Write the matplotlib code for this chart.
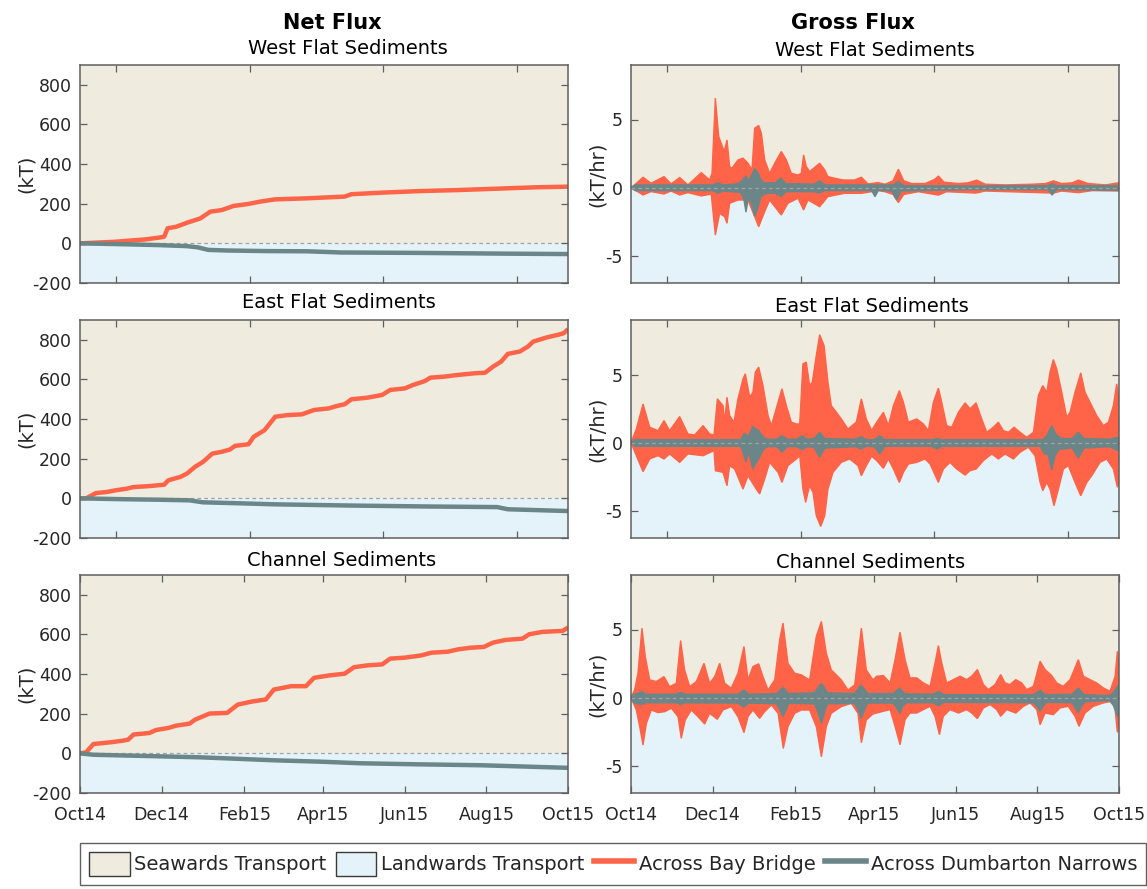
import numpy as np
import matplotlib
matplotlib.use("Agg")
import matplotlib.pyplot as plt
from matplotlib.patches import Patch
from matplotlib.lines import Line2D

# ---------------------------------------------------------------------------
# Data: days since 2014-10-01
# ---------------------------------------------------------------------------
START = np.datetime64("2014-10-01")

# Cumulative net flux (kT) -- (day, value)
west_bay_net = [(0, 0), (26, 8), (49, 20), (60, 30), (63, 34), (65.5, 76), (72, 84), (80, 104),
                (90, 126), (97.5, 160), (106, 168), (115, 189), (126, 199), (135, 211), (146, 222),
                (169, 227), (198, 236), (203, 248), (226, 256), (255, 264), (283, 269), (312, 276),
                (341, 283), (365, 286)]
west_dum_net = [(0, 0), (30, -4), (60, -9), (80, -14), (88, -20), (96, -33), (110, -36), (140, -39),
                (170, -40), (195, -46), (250, -48), (320, -52), (365, -54)]

east_bay_net = [(0, 0), (4.6, 0), (12, 27), (20, 32), (26, 40), (35, 49), (40, 57), (52, 62), (63, 69),
                (66, 91), (75, 108), (80, 125), (86, 159), (92, 184), (99, 226), (106, 235), (112, 246),
                (116, 265), (126, 273), (130, 311), (138, 344), (142, 378), (146, 412), (155, 420),
                (166, 424), (175, 446), (186, 454), (192, 466), (198, 475), (203, 500), (215, 508),
                (226, 522), (232, 547), (243, 555), (249, 572), (258, 592), (262, 609), (272, 614),
                (283, 623), (295, 631), (303, 634), (309, 665), (315, 690), (320, 729), (329, 741),
                (335, 766), (339, 791), (349, 812), (358, 826), (362, 834), (365, 854)]
east_dum_net = [(0, 0), (30, -4), (60, -7), (82, -10), (92, -20), (120, -25), (145, -30), (200, -36),
                (260, -41), (312, -44), (320, -55), (345, -60), (365, -64)]

chan_bay_net = [(0, 0), (4.6, 5), (10, 47), (23, 56), (32, 64), (36, 69), (40, 95), (52, 103), (57, 118),
                (66, 128), (72, 140), (82, 150), (86, 170), (97, 201), (110, 204), (118, 246),
                (129, 262), (139, 272), (145, 322), (158, 339), (169, 339), (175, 381), (186, 393),
                (198, 402), (205, 435), (215, 444), (226, 449), (232, 478), (243, 483), (255, 494),
                (263, 508), (275, 513), (283, 525), (292, 533), (302, 537), (309, 559), (318, 572),
                (331, 579), (336, 601), (346, 613), (361, 618), (365, 635)]
chan_dum_net = [(0, 0), (10, -7), (60, -15), (90, -20), (120, -28), (145, -35), (180, -42), (210, -50),
                (250, -55), (300, -60), (340, -68), (365, -73)]

# Gross flux envelopes (kT/hr) -- (day, value)
west_bay_upper = [(0, 0), (2.7, 0.2), (9, 0.76), (15, 0.32), (24.7, 0.81), (30, 0.27), (36.4, 0.74),
                  (42.6, 0.2), (52.6, 1.1), (58.8, 0.56), (60.6, 1.05), (63.1, 6.57), (65.6, 3.75),
                  (68.8, 2.89), (70.1, 2.77), (71.8, 3.5), (73.8, 1.54), (75.5, 1.42), (80, 2.03),
                  (83.8, 2.16), (87.5, 1.79), (90.5, 1.3), (92.5, 4.36), (95.5, 4.56), (97.5, 4.0),
                  (100, 2.03), (103.7, 1.05), (107.5, 1.79), (112.4, 2.65), (116.2, 2.03), (119.9, 1.05),
                  (124.9, 0.93), (127.4, 1.05), (129.1, 2.4), (131.1, 1.54), (133.6, 1.18), (141.1, 1.79),
                  (144.9, 1.3), (147.3, 0.81), (152.3, 0.69), (158.6, 0.56), (167.3, 0.56), (172.3, 0.76),
                  (177.3, 0.27), (184.7, 0.37), (190, 0.25), (196, 0.5), (200, 1.35), (204, 0.5),
                  (210, 0.3), (220, 0.3), (227, 0.6), (230, 0.85), (234, 0.4), (245, 0.3), (252, 0.35),
                  (258.6, 0.55), (265, 0.25), (280, 0.2), (300, 0.25), (310, 0.3), (316, 0.5), (322, 0.3),
                  (330, 0.35), (334.6, 0.55), (342, 0.3), (355, 0.2), (365, 0.36)]
west_bay_lower = [(0, 0), (9, -0.54), (15, -0.29), (24.7, -0.47), (30, -0.25), (36.4, -0.54), (42.6, -0.37),
                  (52.6, -0.61), (60, -0.47), (63.1, -3.48), (66.3, -1.89), (70, -2.13), (71.8, -2.62),
                  (73.8, -1.15), (80, -0.91), (87.5, -0.91), (92.5, -2.13), (95.5, -2.87), (100, -1.76),
                  (103.7, -0.91), (112.4, -2.01), (117.4, -1.15), (124.9, -0.78), (129.1, -1.64),
                  (132.4, -0.91), (141.1, -1.4), (147.3, -0.66), (159.8, -0.42), (172.3, -0.42),
                  (184.7, -0.22), (190, -0.3), (196, -0.5), (200, -1.1), (204, -0.5), (215, -0.3),
                  (230, -0.55), (236, -0.3), (258, -0.4), (265, -0.25), (316, -0.4), (322, -0.25),
                  (334.6, -0.37), (345, -0.22), (365, -0.25)]
west_dum_upper = [(0, 0), (3, 0.2), (61, 0.2), (65, 0.37), (69, 0.2), (78, 0.25), (82, 0.4), (86, 0.85),
                  (88, 0.5), (90, 0.9), (92.5, 1.4), (95, 1.1), (97, 0.6), (100, 0.35), (108, 0.35),
                  (112, 0.7), (116, 0.3), (137, 0.25), (141, 0.5), (145, 0.2), (196, 0.2), (200, 0.45),
                  (204, 0.15), (250, 0.12), (312, 0.15), (315, 0.3), (318, 0.15), (365, 0.15)]
west_dum_lower = [(0, 0), (3, -0.22), (61, -0.22), (65, -0.4), (69, -0.25), (82, -0.35), (84.5, -0.9),
                  (86, -1.8), (87.5, -0.9), (89.5, -1.0), (92.5, -2.1), (95, -1.5), (97, -0.7), (100, -0.45),
                  (108, -0.4), (112, -0.66), (116, -0.3), (137, -0.3), (141, -0.4), (145, -0.22),
                  (180, -0.22), (182.5, -0.66), (185, -0.2), (195, -0.25), (198.7, -0.9), (202, -0.25),
                  (250, -0.15), (312, -0.15), (315, -0.55), (318, -0.15), (365, -0.2)]

east_bay_upper = [(0, 0), (4, 1.0), (9, 2.84), (14, 1.13), (20.2, 0.88), (24.7, 1.62), (28.9, 0.88),
                  (36.4, 1.91), (42.6, 0.64), (47.6, 0.56), (53.9, 1.25), (58.8, 0.64), (62.1, 0.56),
                  (64.6, 3.21), (68.8, 2.72), (70.1, 1.5), (71.8, 3.33), (73.8, 1.99), (77, 1.5), (80, 3.21),
                  (83.8, 4.68), (85.5, 5.05), (88.8, 3.33), (91.2, 3.7), (93, 5.17), (95.5, 5.54),
                  (98.7, 4.19), (102.5, 1.99), (105, 1.25), (110, 2.97), (112.9, 3.95), (116.2, 2.72),
                  (119.9, 1.5), (123.7, 1.37), (126.2, 1.37), (128.6, 5.78), (131.1, 5.91), (133.6, 4.19),
                  (135.6, 4.44), (138.6, 6.4), (141.1, 7.92), (144.4, 7.13), (147.3, 4.44), (149.8, 2.72),
                  (153.6, 2.23), (157.3, 1.74), (162.3, 1.0), (168.5, 1.5), (172.3, 3.21), (176, 1.74),
                  (180, 0.9), (183.8, 1.5), (188.8, 2.23), (192.5, 1.25), (196.3, 2.72), (200.7, 3.82),
                  (203.7, 2.97), (207.5, 1.5), (213.7, 1.74), (218.7, 1.37), (222.4, 0.88), (226.2, 2.97),
                  (229.9, 4.0), (232.4, 2.97), (236.1, 1.25), (239.9, 1.13), (244.9, 2.23), (249.9, 2.92),
                  (253.6, 2.48), (258.1, 2.92), (262.3, 1.74), (266.1, 0.76), (271, 1.13), (274.8, 1.5),
                  (278.5, 0.88), (282.3, 0.76), (286.5, 1.13), (291, 0.76), (296, 0.39), (301, 0.76),
                  (304.7, 3.46), (308, 4.19), (311, 3.7), (313.4, 5.17), (315.9, 6.1), (318.4, 5.42),
                  (322.2, 3.7), (325.9, 1.86), (328.4, 2.23), (332.1, 3.7), (336.4, 5.12), (339.6, 3.7),
                  (343.3, 2.97), (348.3, 1.99), (353.3, 1.25), (357.1, 1.5), (360.8, 2.72), (363.3, 4.31),
                  (365, 3.21)]
east_bay_lower = [(0, 0), (4, -0.96), (9, -2.13), (14, -1.2), (20.2, -0.96), (24.7, -1.2), (28.9, -0.83),
                  (36.4, -1.45), (42.6, -0.83), (53.9, -0.96), (62.1, -0.59), (63.1, -2.06), (68.8, -2.18),
                  (71.8, -3.16), (73.8, -1.69), (77.5, -1.94), (83.8, -3.41), (87.5, -2.43), (93.7, -3.41),
                  (96.2, -3.77), (100, -2.67), (103.7, -1.45), (110, -2.18), (112.9, -2.92), (117.4, -1.69),
                  (123.7, -1.2), (126.2, -0.96), (128.6, -3.41), (130.6, -4.39), (133.6, -3.16),
                  (136.1, -3.65), (138.6, -5.37), (141.9, -6.15), (144.9, -5.37), (147.3, -3.41),
                  (151.1, -2.18), (157.3, -1.45), (163.5, -1.2), (169.8, -1.69), (172.3, -2.43),
                  (176, -1.69), (180, -1.0), (183.8, -1.32), (188.8, -1.89), (192.5, -1.2), (196.3, -1.94),
                  (200.7, -2.92), (203.7, -2.18), (207.5, -1.57), (213.7, -1.45), (219.9, -1.2),
                  (223.7, -1.57), (229.9, -2.92), (233.6, -1.94), (238.6, -1.45), (243.6, -1.94),
                  (249.9, -2.38), (253.6, -2.06), (258.1, -1.94), (263.6, -1.32), (269.8, -0.83),
                  (274.8, -1.2), (279.8, -0.83), (286, -1.2), (291, -0.71), (297.2, -0.34), (302.2, -0.96),
                  (306, -2.92), (308, -3.53), (311, -2.92), (313.4, -3.41), (316.4, -4.63), (319.7, -3.41),
                  (323.4, -1.94), (327.1, -1.69), (332.1, -2.92), (336.4, -3.9), (340.9, -2.92),
                  (344.6, -2.43), (350.8, -1.45), (355.8, -1.2), (360.8, -1.94), (363.8, -3.28),
                  (365, -2.92)]
east_dum_upper = [(0, 0), (3, 0.22), (82, 0.22), (85, 0.7), (87.5, 0.45), (89.5, 0.8), (91, 1.18),
                  (95.5, 0.88), (99, 0.4), (102, 0.25), (109, 0.25), (113, 0.5), (117, 0.25), (124, 0.25),
                  (128, 0.5), (132, 0.25), (137, 0.3), (141, 0.76), (145, 0.3), (168, 0.25), (172, 0.44),
                  (176, 0.22), (182, 0.22), (186, 0.5), (190, 0.22), (226, 0.22), (229, 0.3), (232, 0.22),
                  (308, 0.22), (311, 0.5), (314.7, 1.25), (318, 0.6), (322, 0.3), (330, 0.3), (334.6, 0.76),
                  (339, 0.3), (358, 0.25), (362, 0.35), (365, 0.4)]
east_dum_lower = [(0, 0), (3, -0.27), (82, -0.27), (84, -0.8), (86, -1.45), (87.5, -0.7), (89.5, -1.2),
                  (91, -1.94), (93.5, -1.5), (95.5, -1.2), (99, -0.5), (102, -0.3), (109, -0.3), (113, -0.7),
                  (117, -0.3), (124, -0.3), (128, -0.5), (132, -0.3), (137, -0.35), (141, -1.08),
                  (145, -0.4), (168, -0.3), (172, -0.47), (176, -0.27), (182, -0.3), (186, -0.83),
                  (190, -0.27), (225, -0.27), (229, -0.47), (233, -0.27), (306, -0.27), (309, -0.8),
                  (312, -0.9), (314.7, -2.0), (317, -1.0), (320, -0.5), (330, -0.4), (334.6, -1.15),
                  (339, -0.4), (358, -0.3), (362, -0.5), (365, -0.6)]

chan_bay_upper = [(0, 0), (2.7, 0.56), (5.2, 1.79), (8.2, 5.1), (10.7, 3.01), (14, 1.3), (18.9, 1.18),
                  (24.7, 1.54), (28.9, 0.81), (33.9, 1.05), (37.1, 4.19), (40.1, 2.03), (43.9, 0.81),
                  (48.9, 1.18), (54.6, 2.52), (58.8, 1.05), (62.6, 1.54), (66.3, 2.52), (70.1, 1.05),
                  (75, 0.69), (80, 1.79), (84.5, 3.75), (87.5, 1.3), (91.2, 2.28), (95.5, 2.48), (98.7, 1.54),
                  (102.5, 0.56), (107.5, 1.3), (111.2, 4.24), (113.7, 5.47), (117.4, 2.52), (122.4, 1.79),
                  (127.4, 1.67), (133.6, 1.3), (138.6, 4.49), (142.4, 5.59), (146.1, 3.26), (149.8, 2.03),
                  (153.6, 1.67), (157.3, 1.3), (162.3, 0.56), (167.3, 0.93), (172.3, 5.1), (176, 2.03),
                  (181, 1.3), (183.8, 1.57), (188.8, 1.62), (193.8, 1.08), (197.5, 2.79), (201.2, 4.8),
                  (205, 2.79), (208.7, 1.45), (213.7, 1.45), (218.7, 1.08), (223.7, 0.83), (227.4, 2.55),
                  (229.9, 3.82), (232.4, 2.55), (236.1, 1.08), (241.1, 1.32), (246.1, 1.57), (251.1, 1.32),
                  (254.8, 1.57), (259.1, 2.06), (263.6, 0.96), (267.3, 0.59), (272.3, 0.96), (276.5, 1.69),
                  (279.8, 1.08), (283.5, 0.96), (287.8, 1.32), (292.2, 1.08), (296, 0.59), (301, 0.83),
                  (306, 2.67), (309.7, 2.06), (314.7, 1.62), (318.4, 1.08), (323.4, 0.83), (328.4, 1.32),
                  (334.6, 2.79), (338.4, 1.57), (343.3, 1.32), (348.3, 1.08), (353.3, 0.71), (358.3, 0.47),
                  (362.1, 1.57), (363.8, 3.41), (365, 2.43)]
chan_bay_lower = [(0, 0), (4, -0.91), (6.5, -2.13), (9, -3.48), (11.5, -1.89), (15.2, -0.91), (20.2, -1.1),
                  (25.2, -1.03), (30.2, -0.78), (35.2, -1.4), (37.6, -2.99), (40.6, -1.64), (45.1, -0.91),
                  (50.1, -1.4), (55.1, -1.94), (58.8, -1.15), (64.6, -1.59), (68.8, -0.91), (75, -0.66),
                  (80, -1.4), (84.5, -2.57), (87.5, -1.4), (91.2, -0.91), (96.2, -1.52), (100, -1.03),
                  (105, -0.54), (110, -1.15), (113.9, -3.73), (117.4, -2.13), (122.4, -1.15), (127.4, -0.91),
                  (133.6, -0.91), (138.6, -2.13), (142.4, -4.34), (146.1, -2.13), (149.8, -1.15),
                  (157.3, -0.66), (164.8, -0.42), (169.8, -1.15), (172.3, -3.31), (176, -1.64),
                  (181, -1.2), (183.8, -1.13), (188.8, -1.0), (193.8, -0.88), (197.5, -2.11), (201.2, -3.46),
                  (205, -1.62), (208.7, -1.13), (213.7, -1.13), (218.7, -0.88), (223.7, -0.64),
                  (227.4, -1.37), (230.7, -2.72), (233.6, -1.37), (238.6, -0.88), (244.9, -1.13),
                  (251.1, -0.88), (254.8, -1.13), (259.1, -1.54), (263.6, -0.76), (268.6, -0.51),
                  (273.5, -0.88), (276.5, -1.37), (281, -0.88), (287.8, -1.13), (293.5, -0.64),
                  (298.5, -0.39), (303.5, -0.88), (306, -1.99), (309.7, -1.13), (315.9, -1.25),
                  (320.9, -0.76), (327.1, -0.64), (332.1, -1.37), (335.1, -2.11), (339.6, -1.13),
                  (345.8, -0.64), (353.3, -0.39), (359.6, -0.27), (362.1, -0.88), (363.8, -2.55),
                  (365, -1.86)]
chan_dum_upper = [(0, 0), (2, 0.25), (5, 0.3), (8, 0.45), (11, 0.25), (34, 0.25), (37, 0.4), (40, 0.25),
                  (80, 0.25), (84.5, 0.56), (88, 0.25), (109, 0.3), (113.7, 0.76), (118, 0.3), (137, 0.35),
                  (142.4, 1.05), (147, 0.35), (167, 0.3), (172.3, 0.93), (177, 0.3), (196, 0.3), (201, 0.7),
                  (205, 0.28), (226, 0.25), (230, 0.45), (234, 0.22), (301, 0.22), (306, 0.54), (310, 0.22),
                  (330, 0.25), (334.6, 0.7), (339, 0.22), (358, 0.15), (361, 0.4), (363.8, 0.85),
                  (365, 0.85)]
chan_dum_lower = [(0, 0), (2, -0.38), (5, -0.45), (8, -0.5), (11, -0.38), (34, -0.38), (37, -0.5),
                  (40, -0.38), (80, -0.4), (84.5, -0.7), (88, -0.4), (109, -0.45), (111.5, -0.9),
                  (113.7, -1.4), (116, -0.9), (118, -0.42), (137, -0.45), (140, -1.1), (142.4, -1.9),
                  (145, -1.0), (147, -0.45), (167, -0.42), (170, -0.9), (172.3, -1.52), (175, -0.8),
                  (177, -0.4), (196, -0.4), (199, -0.8), (201, -1.17), (203.5, -0.6), (206, -0.38),
                  (226, -0.38), (230, -0.6), (234, -0.35), (301, -0.38), (304, -0.7), (306, -1.0),
                  (308.5, -0.6), (311, -0.35), (330, -0.38), (332.5, -0.8), (334.6, -1.12), (337, -0.6),
                  (340, -0.3), (358, -0.22), (361, -0.6), (363.8, -1.37), (365, -1.3)]

row_titles = ["West Flat Sediments", "East Flat Sediments", "Channel Sediments"]
month_ticks = ["2014-10-01", "2014-12-01", "2015-02-01", "2015-04-01", "2015-06-01", "2015-08-01", "2015-10-01"]
month_labels = ["Oct14", "Dec14", "Feb15", "Apr15", "Jun15", "Aug15", "Oct15"]
# MATLAB datenum ticks at 735900, 736000, ... (2014-10-01 is datenum 735873)
datenum_ticks = [27, 127, 227, 327]

legend_labels = ["Seawards Transport", "Landwards Transport", "Across Bay Bridge", "Across Dumbarton Narrows"]

# ---------------------------------------------------------------------------
# Styling
# ---------------------------------------------------------------------------
RED = "#ff6448"
GREY = "#6b8688"
SEA = "#efebde"
LAND = "#e4f3fa"
SPINE = "#5f5f5f"
TXT = "#262626"

plt.rcParams["font.family"] = ["DejaVu Sans"]
plt.rcParams["axes.unicode_minus"] = False

W, H = 1147, 889
fig = plt.figure(figsize=(W / 100, H / 100), dpi=100)


def add_axes_px(x0, y0, x1, y1):
    return fig.add_axes([x0 / W, 1 - y1 / H, (x1 - x0) / W, (y1 - y0) / H])


def day_of(s):
    return int((np.datetime64(s) - START).astype(int))


def style(ax, ylim, bottom_row):
    ax.set_xlim(0, 365)
    ax.set_ylim(*ylim)
    ax.axhspan(0, ylim[1], color=SEA, zorder=0, lw=0)
    ax.axhspan(ylim[0], 0, color=LAND, zorder=0, lw=0)
    for s in ax.spines.values():
        s.set_color(SPINE)
        s.set_linewidth(1.1)
        s.set_zorder(10)
    ax.tick_params(direction="in", length=5, width=0.9, color=SPINE, top=True, right=True,
                   labelsize=12.5, labelcolor=TXT, pad=6)
    if bottom_row:
        ax.set_xticks([day_of(m) for m in month_ticks])
        ax.set_xticklabels(month_labels)
        ax.tick_params(axis="x", pad=9)
    else:
        ax.set_xticks(datenum_ticks)
        ax.set_xticklabels([])


def zero_line(ax, z):
    ax.axhline(0, color="#a3a3a3", lw=0.9, ls=(0, (3, 2.5)), zorder=z)


def band(ax, upper, lower, color, z):
    u = np.asarray(upper, dtype=float)
    lo = np.asarray(lower, dtype=float)
    xs = np.concatenate([u[:, 0], lo[::-1, 0]])
    ys = np.concatenate([u[:, 1], lo[::-1, 1]])
    ax.fill(xs, ys, facecolor=color, edgecolor=color, lw=1.0, zorder=z)


def curve(ax, pts, color):
    a = np.asarray(pts, dtype=float)
    ax.plot(a[:, 0], a[:, 1], color=color, lw=3.2, solid_capstyle="butt", zorder=3)


rows_px = [(65, 283), (320, 538), (575, 793)]
net_series = [(west_bay_net, west_dum_net), (east_bay_net, east_dum_net), (chan_bay_net, chan_dum_net)]
gross_series = [(west_bay_upper, west_bay_lower, west_dum_upper, west_dum_lower),
                (east_bay_upper, east_bay_lower, east_dum_upper, east_dum_lower),
                (chan_bay_upper, chan_bay_lower, chan_dum_upper, chan_dum_lower)]

for i, (y0, y1) in enumerate(rows_px):
    bottom = i == 2

    # Net flux (cumulative)
    axl = add_axes_px(80, y0, 568, y1)
    style(axl, (-200, 900), bottom)
    axl.set_yticks([-200, 0, 200, 400, 600, 800])
    zero_line(axl, 1)
    bay, dum = net_series[i]
    curve(axl, bay, RED)
    curve(axl, dum, GREY)
    axl.set_ylabel("(kT)", fontsize=14, color=TXT)
    axl.yaxis.set_label_coords(-0.09, 0.5)

    # Gross flux (tidal envelopes)
    axr = add_axes_px(631, y0, 1119, y1)
    style(axr, (-7, 9), bottom)
    axr.set_yticks([-5, 0, 5])
    bu, bl, du, dl = gross_series[i]
    band(axr, bu, bl, RED, 2)
    band(axr, du, dl, GREY, 3)
    zero_line(axr, 4)
    axr.set_ylabel("(kT/hr)", fontsize=14, color=TXT)
    axr.yaxis.set_label_coords(-0.049, 0.5)


def text_px(x, y, s, **kw):
    fig.text(x / W, 1 - y / H, s, ha="center", va="center", color="black", **kw)


text_px(332, 23, "Net Flux", fontsize=15, fontweight="bold")
text_px(853, 23, "Gross Flux", fontsize=15, fontweight="bold")
left_title_px = [(348, 49), (339, 303), (342, 560)]
right_title_px = [(875, 50), (872, 306), (871, 562)]
for t, (lx, ly), (rx, ry) in zip(row_titles, left_title_px, right_title_px):
    text_px(lx, ly, t, fontsize=14)
    text_px(rx, ry, t, fontsize=14)

handles = [Patch(facecolor=SEA, edgecolor="#3a3a3a", lw=1.0),
           Patch(facecolor=LAND, edgecolor="#3a3a3a", lw=1.0),
           Line2D([], [], color=RED, lw=4),
           Line2D([], [], color=GREY, lw=4)]
leg = fig.legend(handles, legend_labels, loc="upper left",
                 bbox_to_anchor=(80 / W, 1 - 843 / H, 1066 / W, 0.0), mode="expand", ncol=4,
                 fontsize=14, frameon=True, fancybox=False, edgecolor="#3a3a3a",
                 handlelength=2.1, handleheight=1.55, handletextpad=0.25, borderaxespad=0,
                 borderpad=0.45)
leg.get_frame().set_linewidth(1.0)
for t in leg.get_texts():
    t.set_color(TXT)

fig.savefig("out.png", dpi=100)
